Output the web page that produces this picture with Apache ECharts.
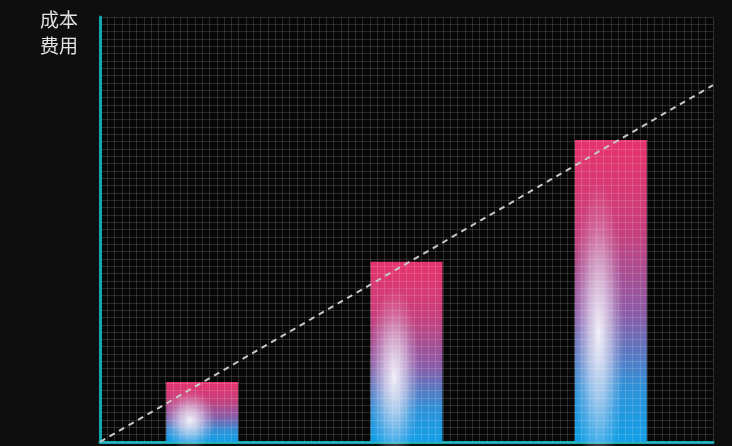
<!DOCTYPE html>
<html><head><meta charset="utf-8">
<script src="https://cdn.jsdelivr.net/npm/echarts@6/dist/echarts.min.js"></script>
<style>html,body{margin:0;padding:0;background:#0e0e0e}#c{width:732px;height:446px}</style>
</head><body><div id="c"></div>
<script>
var categories = ['A', 'B', 'C'];
var costValues = [8.2, 24.6, 41.2];
var trendLine = [[0, 0], [84, 48.7]];
var yName = '成本\n费用';
var gridX = 84, gridY = 58;

var chart = echarts.init(document.getElementById('c'));
var barGrad = new echarts.graphic.LinearGradient(0, 0, 0, 1, [
  {offset: 0, color: '#e6336c'},
  {offset: 0.3, color: '#c8407c'},
  {offset: 0.58, color: '#8a5ca8'},
  {offset: 0.82, color: '#2f92d8'},
  {offset: 1, color: '#129fe6'}
]);
chart.setOption({
  backgroundColor: '#0e0e0e',
  animation: false,
  title: {text: yName, left: 35, top: 2, textStyle: {color: '#e2e2e2', fontSize: 19, lineHeight: 26, fontWeight: 'normal', fontFamily: 'Noto Sans CJK SC'}},
  grid: {left: 100, right: 19, top: 17, bottom: 4, show: true, backgroundColor: '#070707', borderWidth: 0},
  xAxis: [
    {type: 'category', data: categories, axisLine: {show: true, lineStyle: {color: '#13a6ae', width: 3}}, axisTick: {show: false}, axisLabel: {show: false}, splitLine: {show: false}},
    {type: 'value', min: 0, max: gridX, interval: 1, z: 5, axisLine: {show: false}, axisTick: {show: false}, axisLabel: {show: false}, splitLine: {show: true, lineStyle: {color: 'rgba(255,255,255,0.14)', width: 1}}}
  ],
  yAxis: [
    {type: 'value', min: 0, max: gridY, interval: 1, z: 5, axisLine: {show: true, lineStyle: {color: '#13a6ae', width: 3}}, axisTick: {show: false}, axisLabel: {show: false}, splitLine: {show: true, lineStyle: {color: 'rgba(255,255,255,0.14)', width: 1}}}
  ],
  series: [
    {type: 'bar', xAxisIndex: 0, data: costValues, barWidth: 72, itemStyle: {color: barGrad}, z: 2},
    {type: 'custom', xAxisIndex: 0, yAxisIndex: 0, z: 3,
      data: costValues.map(function (v, i) { return [i, v]; }),
      renderItem: function (params, api) {
        var top = api.coord([api.value(0), api.value(1)]);
        var base = api.coord([api.value(0), 0]);
        var w = 72, h = base[1] - top[1];
        var cx = top[0] - w * 0.17;
        var cy = top[1] + h * 0.64;
        var rx = w * 0.36, ry = h * 0.5;
        return {type: 'circle', shape: {cx: 0, cy: 0, r: rx}, x: cx, y: cy, scaleY: ry / rx,
          style: {fill: new echarts.graphic.RadialGradient(0.5, 0.5, 0.5, [
            {offset: 0, color: 'rgba(255,255,255,0.9)'},
            {offset: 0.4, color: 'rgba(245,238,250,0.6)'},
            {offset: 0.75, color: 'rgba(240,230,250,0.2)'},
            {offset: 1, color: 'rgba(240,230,250,0)'}
          ])}};
      }
    },
    {type: 'line', xAxisIndex: 1, yAxisIndex: 0, data: trendLine, symbol: 'none', z: 6,
      lineStyle: {color: '#c8c8c8', width: 2, type: [6, 5]}}
  ]
});
</script></body></html>
